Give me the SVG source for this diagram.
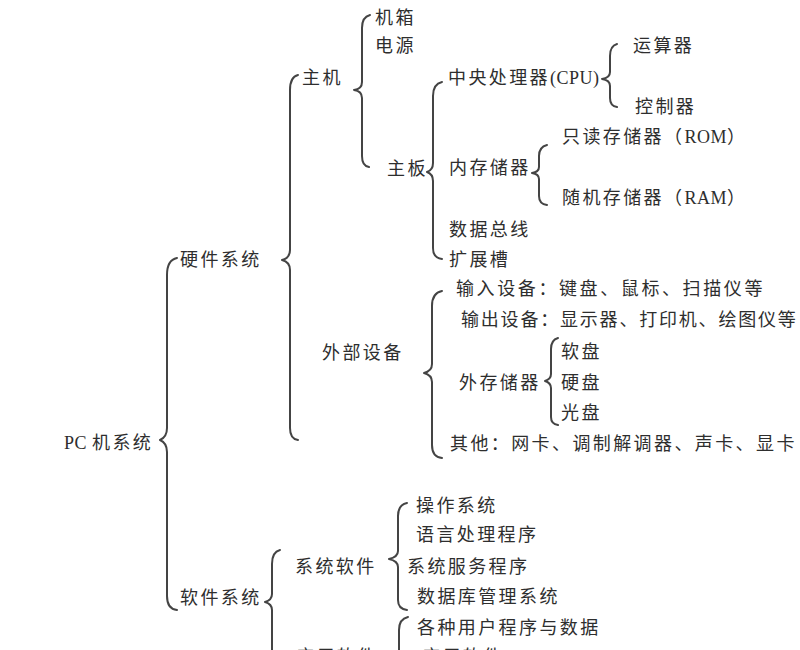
<svg xmlns="http://www.w3.org/2000/svg" width="800" height="650" viewBox="0 0 800 650">
<style>
text{font-family:"Noto Sans CJK SC","Noto Sans",sans-serif;font-size:18px;fill:#2e2e2e;letter-spacing:2.4px}
.lat{font-family:"Liberation Serif","Noto Sans CJK SC",serif;letter-spacing:0.5px}
.br{fill:none;stroke:#444;stroke-width:2;stroke-linecap:round;stroke-linejoin:round}
</style>
<rect width="800" height="650" fill="#fff"/>
<g id="connectors">
<path class="br" d="M177,258 Q167,260 167,275 L167,428 Q167,437 160,440 Q167,443 167,452 L167,596 Q167,609 177,610"/>
<path class="br" d="M298,75 Q290,77 290,90 L290,250 Q290,258 282,260 Q290,262 290,270 L290,428 Q290,439 298,440"/>
<path class="br" d="M370,15 Q362,17 362,28 L362,82 Q362,89 354,90 Q362,91 362,98 L362,156 Q362,166 369,167"/>
<path class="br" d="M442,82 Q433,84 433,96 L433,163 Q433,170 427,172 Q433,174 433,181 L433,248 Q433,258 442,259"/>
<path class="br" d="M617,44 Q610,46 610,56 L610,72 Q610,78 602,79 Q610,80 610,86 L610,98 Q610,106 617,107"/>
<path class="br" d="M547,145 Q539,147 539,156 L539,167 Q539,172 532,173 Q539,174 539,179 L539,196 Q539,204 547,205"/>
<path class="br" d="M442,291 Q432,293 432,306 L432,364 Q432,371 424,373 Q432,375 432,382 L432,445 Q432,457 442,458"/>
<path class="br" d="M558,338 Q551,340 551,349 L551,374 Q551,379 545,381 Q551,383 551,388 L551,417 Q551,424 558,425"/>
<path class="br" d="M280,550 Q272,552 272,564 L272,594 Q272,600 265,602 Q272,604 272,610 L272,660"/>
<path class="br" d="M407,503 Q398,505 398,516 L398,551 Q398,557 389,559 Q398,561 398,567 L398,600 Q398,609 407,610"/>
<path class="br" d="M408,617 Q399,619 399,630 L399,650 Q399,655 390,657"/>
</g>
<g id="pc"><text x="64" y="449"><tspan class="lat">PC </tspan>机系统</text></g>
<g id="hardware"><text x="180" y="266">硬件系统</text></g>
<g id="software"><text x="180" y="604">软件系统</text></g>
<g id="host"><text x="302" y="84">主机</text></g>
<g id="case"><text x="375" y="24">机箱</text></g>
<g id="power"><text x="375" y="52">电源</text></g>
<g id="mainboard"><text x="387" y="175">主板</text></g>
<g id="cpu"><text x="448" y="84">中央处理器<tspan class="lat">(CPU)</tspan></text></g>
<g id="alu"><text x="633" y="52">运算器</text></g>
<g id="cu"><text x="635" y="113">控制器</text></g>
<g id="imem"><text x="449" y="174">内存储器</text></g>
<g id="rom"><text x="562" y="143">只读存储器（<tspan class="lat">ROM</tspan>）</text></g>
<g id="ram"><text x="562" y="204">随机存储器（<tspan class="lat">RAM</tspan>）</text></g>
<g id="bus"><text x="449" y="236">数据总线</text></g>
<g id="slot"><text x="449" y="266">扩展槽</text></g>
<g id="peripheral"><text x="322" y="359">外部设备</text></g>
<g id="input"><text x="456" y="295" style="letter-spacing:2.6px">输入设备：键盘、鼠标、扫描仪等</text></g>
<g id="output"><text x="461" y="326" style="letter-spacing:1.8px">输出设备：显示器、打印机、绘图仪等</text></g>
<g id="emem"><text x="459" y="389">外存储器</text></g>
<g id="floppy"><text x="561" y="358">软盘</text></g>
<g id="hdd"><text x="561" y="389">硬盘</text></g>
<g id="cd"><text x="561" y="419">光盘</text></g>
<g id="other"><text x="450" y="450">其他：网卡、调制解调器、声卡、显卡</text></g>
<g id="syssoft"><text x="295" y="573">系统软件</text></g>
<g id="os"><text x="416" y="512">操作系统</text></g>
<g id="lang"><text x="416" y="541">语言处理程序</text></g>
<g id="service"><text x="407" y="573">系统服务程序</text></g>
<g id="dbms"><text x="417" y="603">数据库管理系统</text></g>
<g id="userprog"><text x="417" y="634">各种用户程序与数据</text></g>
<g id="appsoft"><text x="296" y="663">应用软件</text></g>
<g id="app2"><text x="422" y="663">应用软件</text></g>
</svg>
